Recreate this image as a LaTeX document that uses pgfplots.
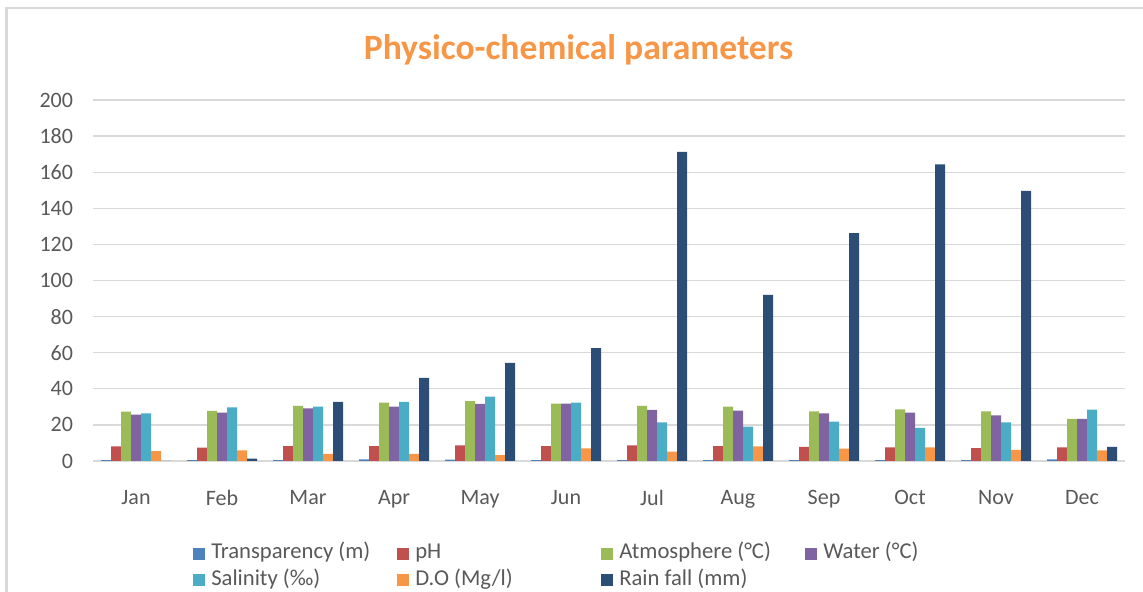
\documentclass[border=0pt]{standalone}
\usepackage{fontspec}
\setmainfont{Carlito}
\usepackage{pgfplots}
\pgfplotsset{compat=1.18}
\usepackage{pgfplotstable}

\definecolor{cTr}{HTML}{4F81BD}
\definecolor{cPh}{HTML}{C0504D}
\definecolor{cAt}{HTML}{9BBB59}
\definecolor{cWa}{HTML}{8064A2}
\definecolor{cSa}{HTML}{4BACC6}
\definecolor{cDo}{HTML}{F79646}
\definecolor{cRa}{HTML}{2C4D75}
\definecolor{cTitle}{HTML}{F79646}
\definecolor{cTick}{HTML}{595959}
\definecolor{cGrid}{HTML}{D9D9D9}

\pgfplotstableread{
m trans pH atm water sal do rain
0 0.5 8.1 27.3 25.7 26.4 5.5 0
1 0.5 7.4 27.7 26.8 29.7 5.9 1.3
2 0.5 8.3 30.6 29.2 30.1 4.0 32.7
3 0.9 8.3 32.3 30.1 32.7 3.9 46.0
4 0.8 8.7 33.2 31.6 35.6 3.2 54.3
5 0.5 8.3 31.8 31.8 32.3 7.0 62.6
6 0.5 8.7 30.5 28.3 21.4 5.2 171.2
7 0.5 8.3 30.1 27.9 19.0 8.1 92.0
8 0.5 7.8 27.5 26.4 21.8 6.8 126.3
9 0.5 7.6 28.6 26.8 18.3 7.6 164.4
10 0.5 7.2 27.5 25.3 21.4 6.1 149.6
11 0.9 7.6 23.4 23.4 28.4 5.9 7.8
}\datatable

\begin{document}
\begin{tikzpicture}
\path[use as bounding box] (0pt,0pt) rectangle (857.25pt,444pt);
% chart frame
\draw[cGrid, line width=1.8pt] (5pt,-5pt) -- (5pt,438pt) -- (870pt,438pt);
% title
\node[anchor=base, font=\fontsize{26.7}{30}\selectfont\bfseries, text=cTitle, inner sep=0pt]
  at (433.9pt,399pt) {Physico-chemical parameters};
\begin{axis}[
  at={(69.75pt,98.25pt)}, anchor=south west,
  scale only axis, width=774pt, height=270.75pt,
  ybar=0pt, bar width=7.5pt,
  xmin=-0.5, xmax=11.5, ymin=0, ymax=200,
  xtick={0,...,11},
  xticklabels={Jan,Feb,Mar,Apr,May,Jun,Jul,Aug,Sep,Oct,Nov,Dec},
  ytick={0,20,...,200},
  ymajorgrids, grid style={cGrid, line width=1pt},
  axis line style={draw=none},
  major tick length=0pt,
  tick label style={font=\fontsize{16.5}{19}\selectfont, text=cTick},
  /pgf/number format/assume math mode=true,
  xticklabel style={yshift=-18.5pt},
  yticklabel style={xshift=-11.5pt},
  legend columns=4,
  legend style={draw=none, fill=none, inner sep=0pt, row sep=4pt,
    at={(0.0969,-0.226)}, anchor=north west,
    font=\fontsize{17}{20}\selectfont, text=cTick,
    nodes={inner sep=0pt, text height=12pt, text depth=4pt},
    /tikz/every odd column/.append style={column sep=4.5pt}},
  legend cell align=left,
  legend image code/.code={\path[#1, draw=none] (0pt,-4.5pt) rectangle (9pt,4.5pt);},
]
\addplot[fill=cTr, draw=none] table[x=m, y=trans] {\datatable};
\addlegendentry{\makebox[139.5pt][l]{Transparency (m)}}
\addplot[fill=cPh, draw=none] table[x=m, y=pH] {\datatable};
\addlegendentry{\makebox[139.5pt][l]{pH}}
\addplot[fill=cAt, draw=none] table[x=m, y=atm] {\datatable};
\addlegendentry{\makebox[139.5pt][l]{Atmosphere (°C)}}
\addplot[fill=cWa, draw=none] table[x=m, y=water] {\datatable};
\addlegendentry{Water (°C)}
\addplot[fill=cSa, draw=none] table[x=m, y=sal] {\datatable};
\addlegendentry{\makebox[139.5pt][l]{Salinity (‰)}}
\addplot[fill=cDo, draw=none] table[x=m, y=do] {\datatable};
\addlegendentry{\makebox[139.5pt][l]{D.O (Mg/l)}}
\addplot[fill=cRa, draw=none] table[x=m, y=rain] {\datatable};
\addlegendentry{Rain fall (mm)}
\end{axis}
\end{tikzpicture}
\end{document}
